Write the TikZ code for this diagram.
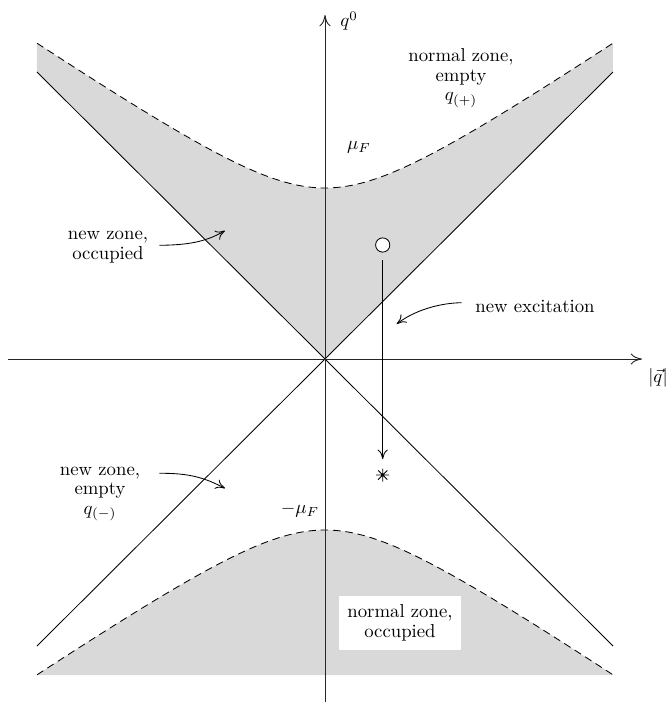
\documentclass[tikz,border=0pt]{standalone}
\usetikzlibrary{arrows.meta,calc}
\begin{document}
\begin{tikzpicture}[x=53.4pt,y=53.4pt,
  zonefill/.style={fill=black!15},
  fermi/.style={line width=0.45pt,dash pattern=on 4pt off 2.6pt},
  cone/.style={line width=0.45pt},
  axisline/.style={line width=0.5pt,draw=black!85,-{To[length=6pt,width=6pt]}},
  pointer/.style={line width=0.45pt,-{To[length=5pt,width=5.5pt]}},
  lbl/.style={align=center,inner sep=1pt,font=\fontsize{10}{10.4}\selectfont}]
\useasboundingbox (-3.25,-3.43) rectangle (3.43,3.59);
% shaded regions
\fill[zonefill] plot[domain=-2.88:2.88,samples=120] (\x,{1.11+sqrt(0.36+0.4624*\x*\x)})
  -- (2.88,2.87) -- (0,0) -- (-2.88,2.87) -- cycle;
\fill[zonefill] plot[domain=-2.88:2.88,samples=120] (\x,{-1.11-sqrt(0.36+0.4624*\x*\x)})
  -- (2.88,-3.16) -- (-2.88,-3.16) -- cycle;
% dashed Fermi curves
\draw[fermi] plot[domain=-2.88:2.88,samples=120] (\x,{1.11+sqrt(0.36+0.4624*\x*\x)});
\draw[fermi] plot[domain=-2.88:2.88,samples=120] (\x,{-1.11-sqrt(0.36+0.4624*\x*\x)});
% light cone
\coordinate (o) at (0,0);
\coordinate (ul) at (-2.88,2.87);
\coordinate (ur) at (2.88,2.87);
\coordinate (ll) at (-2.88,-2.87);
\coordinate (lr) at (2.88,-2.87);
\draw[cone] (ul) -- (lr);
\draw[cone] (ll) -- (ur);
% axes
\coordinate (xs) at (-3.17,0);
\coordinate (xe) at (3.17,0);
\coordinate (ys) at (0,-3.45);
\coordinate (ye) at (0,3.44);
\draw[axisline] (xs) -- (xe);
\draw[axisline] (ys) -- (ye);
\node (q0) at (0.24,3.38) {$q^0$};
\node (qv) at (3.33,-0.19) {$|\vec q|$};
\node (muF) at (0.34,2.12) {$\mu_F$};
\node (mmuF) at (-0.25,-1.51) {$-\mu_F$};
% labels
\node[lbl] (nze) at (1.36,2.81) {normal zone,\\empty\\$q_{(+)}$};
\node[lbl] (nzo) at (-2.17,1.12) {new zone,\\occupied};
\node[lbl] (nex) at (2.10,0.53) {new excitation};
\node[lbl] (nwe) at (-2.25,-1.35) {new zone,\\empty\\$q_{(-)}$};
\node[lbl,fill=white,minimum width=65pt,minimum height=29pt] (nzocc) at (0.75,-2.64) {normal zone,\\occupied};
% pointer arrows
\coordinate (p1s) at (-1.657,1.137);
\coordinate (p1e) at (-1.00,1.283);
\draw[pointer] (p1s) .. controls (-1.38,1.14) and (-1.20,1.167) .. (p1e);
\coordinate (p2s) at (1.367,0.563);
\coordinate (p2e) at (0.717,0.35);
\draw[pointer] (p2s) .. controls (1.15,0.56) and (0.90,0.49) .. (p2e);
\coordinate (p3s) at (-1.657,-1.143);
\coordinate (p3e) at (-1.00,-1.293);
\draw[pointer] (p3s) .. controls (-1.35,-1.14) and (-1.20,-1.19) .. (p3e);
% excitation
\node[circle,draw,fill=white,line width=0.45pt,inner sep=0pt,minimum size=7.6pt] (hole) at (0.577,1.14) {};
\coordinate (star) at (0.577,-1.16);
\coordinate (ts) at (0.577,0.99);
\coordinate (te) at (0.577,-1.0);
\draw[pointer] (ts) -- (te);
\draw[line width=0.45pt] ($(star)+(-0.065,0)$) -- ($(star)+(0.065,0)$)
  ($(star)+(0,-0.065)$) -- ($(star)+(0,0.065)$)
  ($(star)+(-0.046,-0.046)$) -- ($(star)+(0.046,0.046)$)
  ($(star)+(-0.046,0.046)$) -- ($(star)+(0.046,-0.046)$);
\fill (star) circle (0.015);
\end{tikzpicture}
\end{document}
